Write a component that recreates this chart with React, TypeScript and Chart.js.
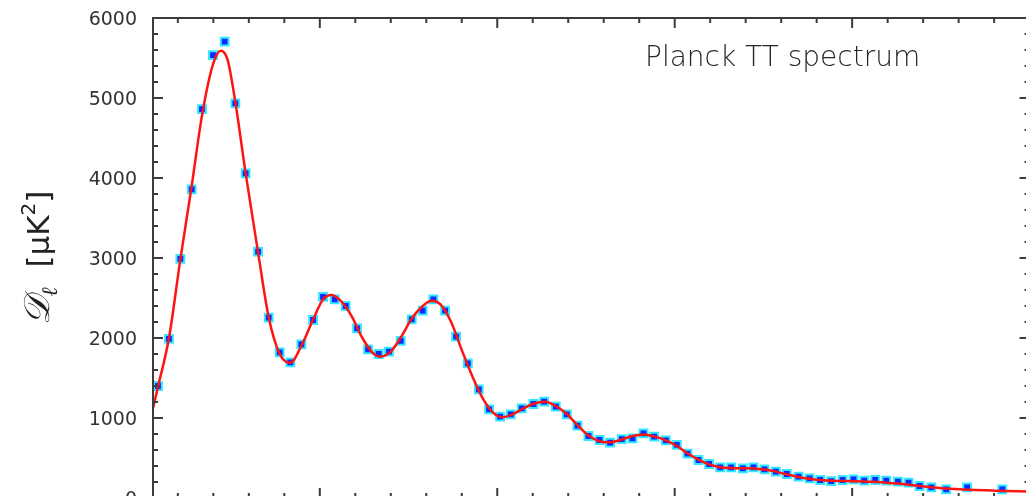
import React, { useEffect, useRef } from 'react';
import { Chart, registerables } from 'chart.js';

Chart.register(...registerables);

// ---- Data ----
const BAND_ELL = [
  44, 75, 107, 139, 168, 199, 232, 262, 291, 326, 356, 387, 417, 448, 481, 509,
  542, 573, 605, 636, 666, 695, 728, 759, 790, 820, 853, 884, 917, 948, 977, 1008,
  1038, 1069, 1102, 1132, 1165, 1196, 1226, 1257, 1288, 1318, 1351, 1381, 1412, 1442,
  1475, 1506, 1536, 1567, 1597, 1628, 1659, 1692, 1722, 1753, 1785, 1816, 1849, 1880,
  1910, 1941, 1973, 2004, 2034, 2065, 2096, 2129, 2159, 2190, 2223, 2265, 2324, 2423,
];
const BAND_DL = [
  1400, 1988, 2988, 3858, 4862, 5537, 5704, 4934, 4058, 3079, 2254, 1821, 1696, 1921, 2225, 2513,
  2483, 2400, 2121, 1858, 1800, 1829, 1963, 2233, 2342, 2483, 2342, 2017, 1683, 1358, 1108, 1017,
  1046, 1121, 1175, 1204, 1142, 1046, 904, 775, 725, 692, 737, 746, 808, 767,
  720, 663, 555, 475, 425, 383, 383, 371, 383, 358, 329, 300, 267, 246,
  225, 212, 225, 233, 217, 225, 217, 204, 192, 150, 133, 108, 133, 108,
];

const MODEL_ELL = [
  30, 44, 75, 107, 139, 168, 199, 221, 240, 262, 291, 326, 356, 387, 417, 448, 481, 509,
  533, 560, 590, 620, 650, 669, 700, 730, 760, 790, 815, 840, 870, 900, 930, 960, 990,
  1012, 1040, 1070, 1100, 1135, 1165, 1196, 1226, 1257, 1288, 1318, 1350, 1381, 1412,
  1442, 1475, 1506, 1536, 1567, 1597, 1628, 1660, 1692, 1722, 1753, 1785, 1816, 1849,
  1880, 1910, 1941, 1973, 2004, 2034, 2065, 2096, 2129, 2159, 2190, 2223, 2265, 2324,
  2400, 2500,
];
const MODEL_DL = [
  1120, 1390, 2000, 2980, 3900, 4780, 5420, 5590, 5480, 4950, 4060, 3070, 2260, 1800, 1690, 1900, 2230, 2480,
  2537, 2460, 2270, 2000, 1810, 1767, 1830, 2020, 2250, 2400, 2467, 2420, 2200, 1850, 1520, 1240, 1060,
  1010, 1040, 1110, 1175, 1204, 1150, 1050, 910, 780, 710, 696, 730, 775, 795,
  770, 720, 650, 560, 480, 420, 385, 375, 372, 370, 355, 330, 295, 262,
  240, 225, 215, 212, 210, 207, 200, 192, 180, 165, 150, 135, 118, 104,
  92, 80,
];

const X_MIN = 30;
const X_MAX = 2500;
const Y_MIN = 0;
const Y_MAX = 6000;
const X_MAJOR_TICKS = [500, 1000, 1500, 2000, 2500];
const X_MINOR_TICKS = [100, 200, 300, 400, 600, 700, 800, 900, 1100, 1200, 1300, 1400, 1600, 1700, 1800, 1900, 2100, 2200, 2300, 2400];
const Y_MAJOR_TICKS = [0, 1000, 2000, 3000, 4000, 5000, 6000];
const Y_TICK_LABELS = ['0', '1000', '2000', '3000', '4000', '5000', '6000'];
const Y_MINOR_TICKS = [200, 400, 600, 800, 1200, 1400, 1600, 1800, 2200, 2400, 2600, 2800, 3200, 3400, 3600, 3800, 4200, 4400, 4600, 4800, 5200, 5400, 5600, 5800];
const TITLE = 'Planck TT spectrum';

// ---- Layout ----
const CANVAS_W = 1040;
const CANVAS_H = 520;
const AREA_LEFT = 153;
const AREA_TOP = 18;
const AREA_RIGHT = 1029.6;
const AREA_BOTTOM = 498;
const AXIS_COLOR = '#3c3c3c';
const TEXT_COLOR = '#333333';

const framePlugin = {
  id: 'frame',
  afterDraw(chart: any) {
    const { ctx, chartArea, scales } = chart;
    const xs = scales.x;
    const ys = scales.y;
    const { left, right, top, bottom } = chartArea;
    ctx.save();
    ctx.strokeStyle = AXIS_COLOR;
    ctx.lineWidth = 2;
    ctx.strokeRect(left, top, right - left, bottom - top);

    const MAJ = 10;
    const MIN = 5;
    ctx.beginPath();
    for (const v of Y_MAJOR_TICKS) {
      const y = ys.getPixelForValue(v);
      ctx.moveTo(left, y); ctx.lineTo(left + MAJ, y);
      ctx.moveTo(right, y); ctx.lineTo(right - MAJ, y);
    }
    for (const v of Y_MINOR_TICKS) {
      const y = ys.getPixelForValue(v);
      ctx.moveTo(left, y); ctx.lineTo(left + MIN, y);
      ctx.moveTo(right, y); ctx.lineTo(right - MIN, y);
    }
    for (const v of X_MAJOR_TICKS) {
      const x = xs.getPixelForValue(v);
      ctx.moveTo(x, top); ctx.lineTo(x, top + MAJ);
      ctx.moveTo(x, bottom); ctx.lineTo(x, bottom - MAJ);
    }
    for (const v of X_MINOR_TICKS) {
      const x = xs.getPixelForValue(v);
      ctx.moveTo(x, top); ctx.lineTo(x, top + MIN);
      ctx.moveTo(x, bottom); ctx.lineTo(x, bottom - MIN);
    }
    ctx.stroke();

    // y tick labels
    ctx.fillStyle = TEXT_COLOR;
    ctx.font = '19px "DejaVu Sans"';
    ctx.textAlign = 'right';
    ctx.textBaseline = 'alphabetic';
    Y_MAJOR_TICKS.forEach((v, i) => {
      const y = ys.getPixelForValue(v);
      ctx.fillText(Y_TICK_LABELS[i], left - 16, y + 7);
    });

    // title inside the plot
    ctx.fillStyle = '#262626';
    ctx.font = '200 28px "DejaVu Sans"';
    ctx.textAlign = 'left';
    ctx.fillText(TITLE, 645, 66);

    // y axis title: D_l [uK^2]
    const pieces = [
      { t: '𝒟', f: 'italic 36px "DejaVu Serif"', dy: 0 },
      { t: 'ℓ', f: 'italic 22px "DejaVu Serif"', dy: 8 },
      { t: '  [', f: '31px "DejaVu Sans"', dy: 0 },
      { t: 'μK', f: '31px "DejaVu Sans"', dy: 0 },
      { t: '2', f: '20px "DejaVu Sans"', dy: -14 },
      { t: ']', f: '31px "DejaVu Sans"', dy: 0 },
    ];
    let total = 0;
    const widths = pieces.map((p) => { ctx.font = p.f; const w = ctx.measureText(p.t).width; total += w; return w; });
    ctx.translate(49, 258);
    ctx.rotate(-Math.PI / 2);
    ctx.fillStyle = '#222';
    let cx = -total / 2;
    pieces.forEach((p, i) => {
      ctx.font = p.f;
      ctx.fillText(p.t, cx, p.dy);
      cx += widths[i];
    });
    ctx.restore();
  },
};

export default function App() {
  const ref = useRef<HTMLCanvasElement>(null);
  useEffect(() => {
    const canvas = ref.current;
    if (!canvas) return;
    const chart = new Chart(canvas, {
      type: 'scatter',
      data: {
        datasets: [
          {
            label: 'model',
            data: MODEL_ELL.map((x, i) => ({ x, y: MODEL_DL[i] })),
            showLine: true,
            borderColor: '#ff1414',
            borderWidth: 2.5,
            pointRadius: 0,
            cubicInterpolationMode: 'monotone',
            fill: false,
          } as any,
          {
            label: 'Planck',
            data: BAND_ELL.map((x, i) => ({ x, y: BAND_DL[i] })),
            showLine: false,
            pointStyle: 'rect',
            pointRadius: 5.5,
            backgroundColor: '#1028ff',
            borderColor: '#30e8ff',
            borderWidth: 2,
          } as any,
        ],
      },
      options: {
        responsive: false,
        animation: false,
        devicePixelRatio: 1,
        layout: {
          padding: {
            left: AREA_LEFT,
            top: AREA_TOP,
            right: CANVAS_W - AREA_RIGHT,
            bottom: CANVAS_H - AREA_BOTTOM,
          },
        },
        scales: {
          x: { type: 'linear', min: X_MIN, max: X_MAX, display: false },
          y: { type: 'linear', min: Y_MIN, max: Y_MAX, display: false },
        },
        plugins: {
          legend: { display: false },
          tooltip: { enabled: false },
        },
      },
      plugins: [framePlugin],
    });
    return () => chart.destroy();
  }, []);
  return (
    <div style={{ position: 'fixed', left: 0, top: 0, width: 1026, height: 496, overflow: 'hidden', background: '#fff' }}>
      <canvas ref={ref} width={CANVAS_W} height={CANVAS_H} style={{ display: 'block' }} />
    </div>
  );
}
